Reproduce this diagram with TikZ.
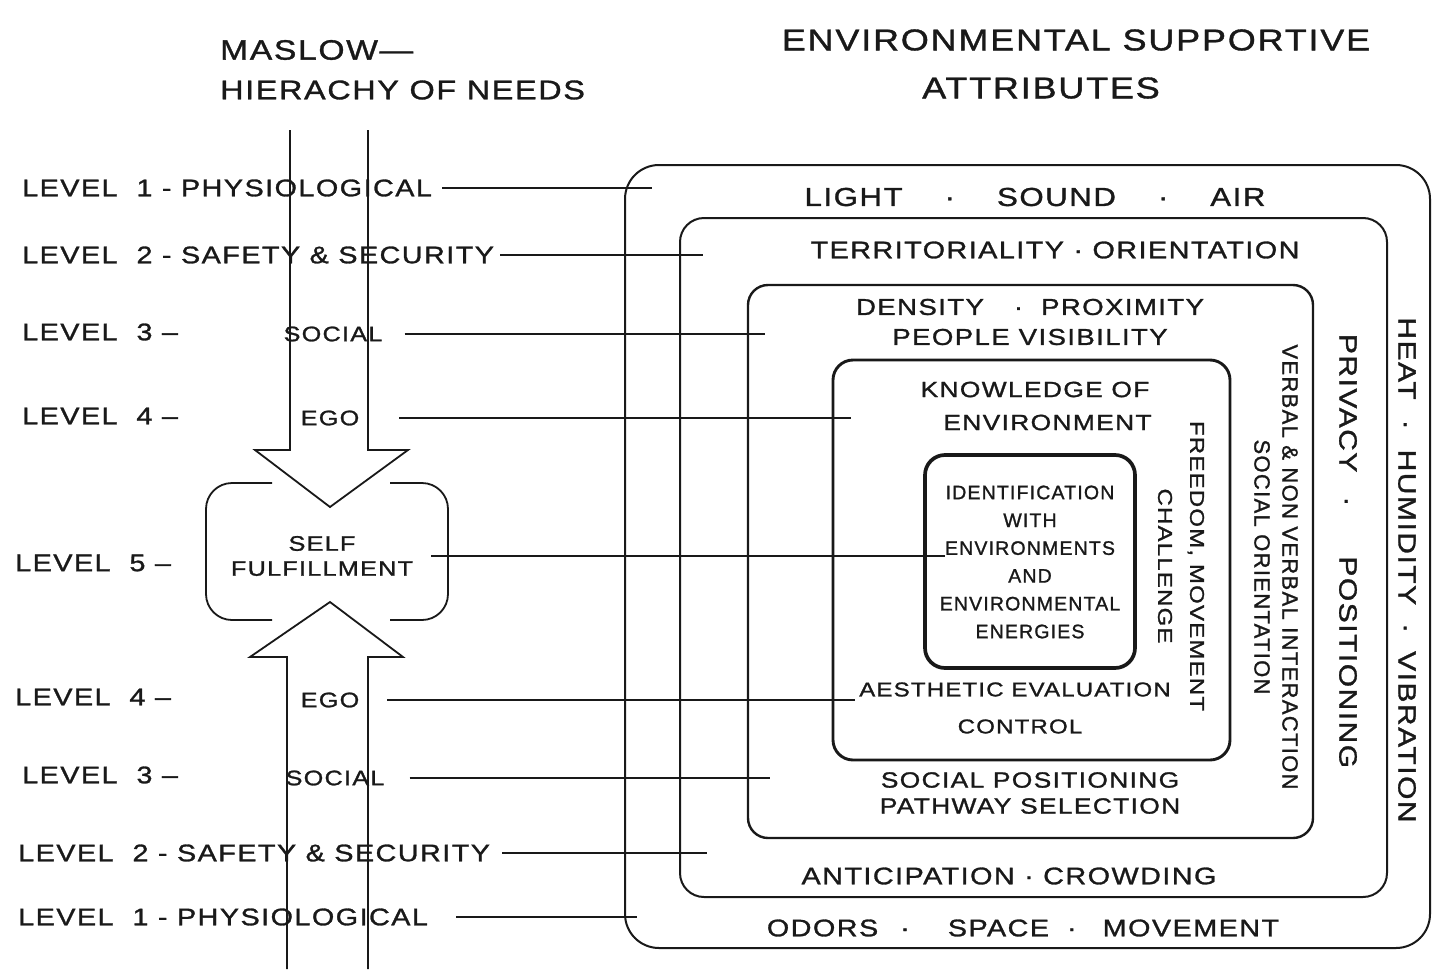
\documentclass[tikz,border=0pt]{standalone}
\usepackage{fontspec}
\newfontfamily\hand[FakeStretch=1.2,LetterSpace=6,FakeBold=1.2]{Liberation Sans}
\newfontfamily\handn[LetterSpace=6,FakeBold=1.2]{Liberation Sans}
\newcommand\fs[2]{\fontsize{#1}{#2}\selectfont}
\colorlet{ink}{black!90}
\begin{document}
\begin{tikzpicture}[x=1pt,y=-1pt,
  lbl/.style={font=\hand\fs{24}{28}, anchor=west, inner sep=0pt, text=ink},
  nm/.style={font=\hand\fs{21}{25}, inner sep=0pt, text=ink},
  ttl/.style={font=\hand\fs{30}{36}, inner sep=0pt, text=ink},
  rt/.style={font=\hand\fs{24}{30}, inner sep=0pt, text=ink, align=center},
  conn/.style={draw=ink, line width=1.7pt},
  arr/.style={draw=ink, line width=1.8pt, line join=miter},
  bx/.style={draw=ink, line width=2pt}]
\useasboundingbox (0,0) rectangle (1432,969);
\fill[white] (0,0) rectangle (1432,969);

% titles
\node[ttl, anchor=west, font=\hand\fs{28}{34}] (t1) at (220,50) {MASLOW—};
\node[ttl, anchor=west, font=\hand\fs{27}{34}] (t2) at (220,90) {HIERACHY OF NEEDS};
\node[ttl] (t3) at (1076,40) {ENVIRONMENTAL SUPPORTIVE};
\node[ttl] (t4) at (1041,88) {ATTRIBUTES};

% arrows
\draw[arr] (290,130) -- (290,450) -- (255,450) -- (330,507) -- (408,450) -- (368,450) -- (368,130);
\draw[arr] (287,969) -- (287,657) -- (250,657) -- (330,602) -- (403,657) -- (368,657) -- (368,969);
% self fulfillment bracket box
\draw[arr, rounded corners=26] (272,483) -- (206,483) -- (206,620) -- (272,620);
\draw[arr, rounded corners=26] (390,483) -- (448,483) -- (448,620) -- (390,620);

% right nested boxes
\draw[bx, rounded corners=34] (625,165) rectangle (1430,948);
\draw[bx, rounded corners=24] (680,218) rectangle (1387,897);
\draw[bx, line width=2.4pt, rounded corners=20] (748,285) rectangle (1313,838);
\draw[bx, line width=2.9pt, rounded corners=20] (833,360) rectangle (1230,760);
\draw[bx, line width=3.7pt, rounded corners=20] (925,455) rectangle (1135,668);

% left labels
\node[lbl] (l1) at (22,188) {LEVEL\ \ 1 - PHYSIOLOGICAL};
\node[lbl] (l2) at (22,255) {LEVEL\ \ 2 - SAFETY \& SECURITY};
\node[lbl] (l3) at (22,332) {LEVEL\ \ 3 –};
\node[nm] (s3) at (333,334) {SOCIAL};
\node[lbl] (l4) at (22,416) {LEVEL\ \ 4 –};
\node[nm] (g4) at (330,418) {EGO};
\node[lbl] (l5) at (15,563) {LEVEL\ \ 5 –};
\node[nm, align=center] (sf) at (322,556) {SELF\\FULFILLMENT};
\node[lbl] (l4b) at (15,697) {LEVEL\ \ 4 –};
\node[nm] (g4b) at (330,700) {EGO};
\node[lbl] (l3b) at (22,775) {LEVEL\ \ 3 –};
\node[nm] (s3b) at (335,778) {SOCIAL};
\node[lbl] (l2b) at (18,853) {LEVEL\ \ 2 - SAFETY \& SECURITY};
\node[lbl] (l1b) at (18,917) {LEVEL\ \ 1 - PHYSIOLOGICAL};

% connector ends
\coordinate (e1) at (652,188);
\coordinate (e2) at (703,258);
\coordinate (e3) at (765,334);
\coordinate (e4) at (851,420);
\coordinate (e5) at (945,560);
\coordinate (e4b) at (855,700);
\coordinate (e3b) at (770,780);
\coordinate (e2b) at (707,855);
\coordinate (e1b) at (637,917);

\draw[conn, shorten <=10pt] (l1.east) -- (l1.east -| e1);
\draw[conn, shorten <=6pt] (l2.east) -- (l2.east -| e2);
\draw[conn, shorten <=22pt] (s3.east) -- (s3.east -| e3);
\draw[conn, shorten <=40pt] (g4.east) -- (g4.east -| e4);
\draw[conn, shorten <=18pt] (sf.east) -- (sf.east -| e5);
\draw[conn, shorten <=28pt] (g4b.east) -- (g4b.east -| e4b);
\draw[conn, shorten <=25pt] (s3b.east) -- (s3b.east -| e3b);
\draw[conn, shorten <=12pt] (l2b.east) -- (l2b.east -| e2b);
\draw[conn, shorten <=28pt] (l1b.east) -- (l1b.east -| e1b);

% right texts
\node[rt, font=\hand\fs{26}{30}] (a1) at (1035,197) {LIGHT\hspace{42pt}·\hspace{42pt}SOUND\hspace{42pt}·\hspace{42pt}AIR};
\node[rt] (a2) at (1055,250) {TERRITORIALITY · ORIENTATION};
\node[rt, font=\hand\fs{23}{30}] (a3) at (1030,322) {DENSITY\hspace{30pt}·\hspace{18pt}PROXIMITY\\PEOPLE VISIBILITY};
\node[rt, font=\hand\fs{22}{33}] (a4) at (1035,406) {KNOWLEDGE OF\\\hspace{25pt}ENVIRONMENT};
\node[rt, font=\handn\fs{19.5}{27.8}] (a5) at (1030,562) {IDENTIFICATION\\WITH\\ENVIRONMENTS\\AND\\ENVIRONMENTAL\\ENERGIES};
\node[rt, font=\hand\fs{20}{37}] (a6) at (1015,708) {AESTHETIC EVALUATION\\\hspace{10pt}CONTROL};
\node[rt, font=\hand\fs{22}{26}] (a7) at (1030,793) {SOCIAL POSITIONING\\PATHWAY SELECTION};
\node[rt] (a8) at (1009,876) {ANTICIPATION · CROWDING};
\node[rt] (a9) at (1023,928) {ODORS\hspace{22pt}·\hspace{38pt}SPACE\hspace{18pt}·\hspace{26pt}MOVEMENT};

% rotated texts
\node[rt, font=\hand\fs{25}{30}, rotate=-90] (r1) at (1407,570) {HEAT\hspace{20pt}·\hspace{20pt}HUMIDITY\hspace{18pt}·\hspace{18pt}VIBRATION};
\node[rt, font=\hand\fs{25}{30}, rotate=-90] (r2) at (1348,551) {PRIVACY\hspace{24pt}·\hspace{50pt}POSITIONING};
\node[rt, font=\handn\fs{22}{28}, rotate=-90] (r3) at (1276,567) {VERBAL \& NON VERBAL INTERACTION\\SOCIAL ORIENTATION};
\node[rt, font=\hand\fs{20}{32}, rotate=-90] (r4) at (1181,566) {FREEDOM, MOVEMENT\\CHALLENGE};
\end{tikzpicture}
\end{document}
